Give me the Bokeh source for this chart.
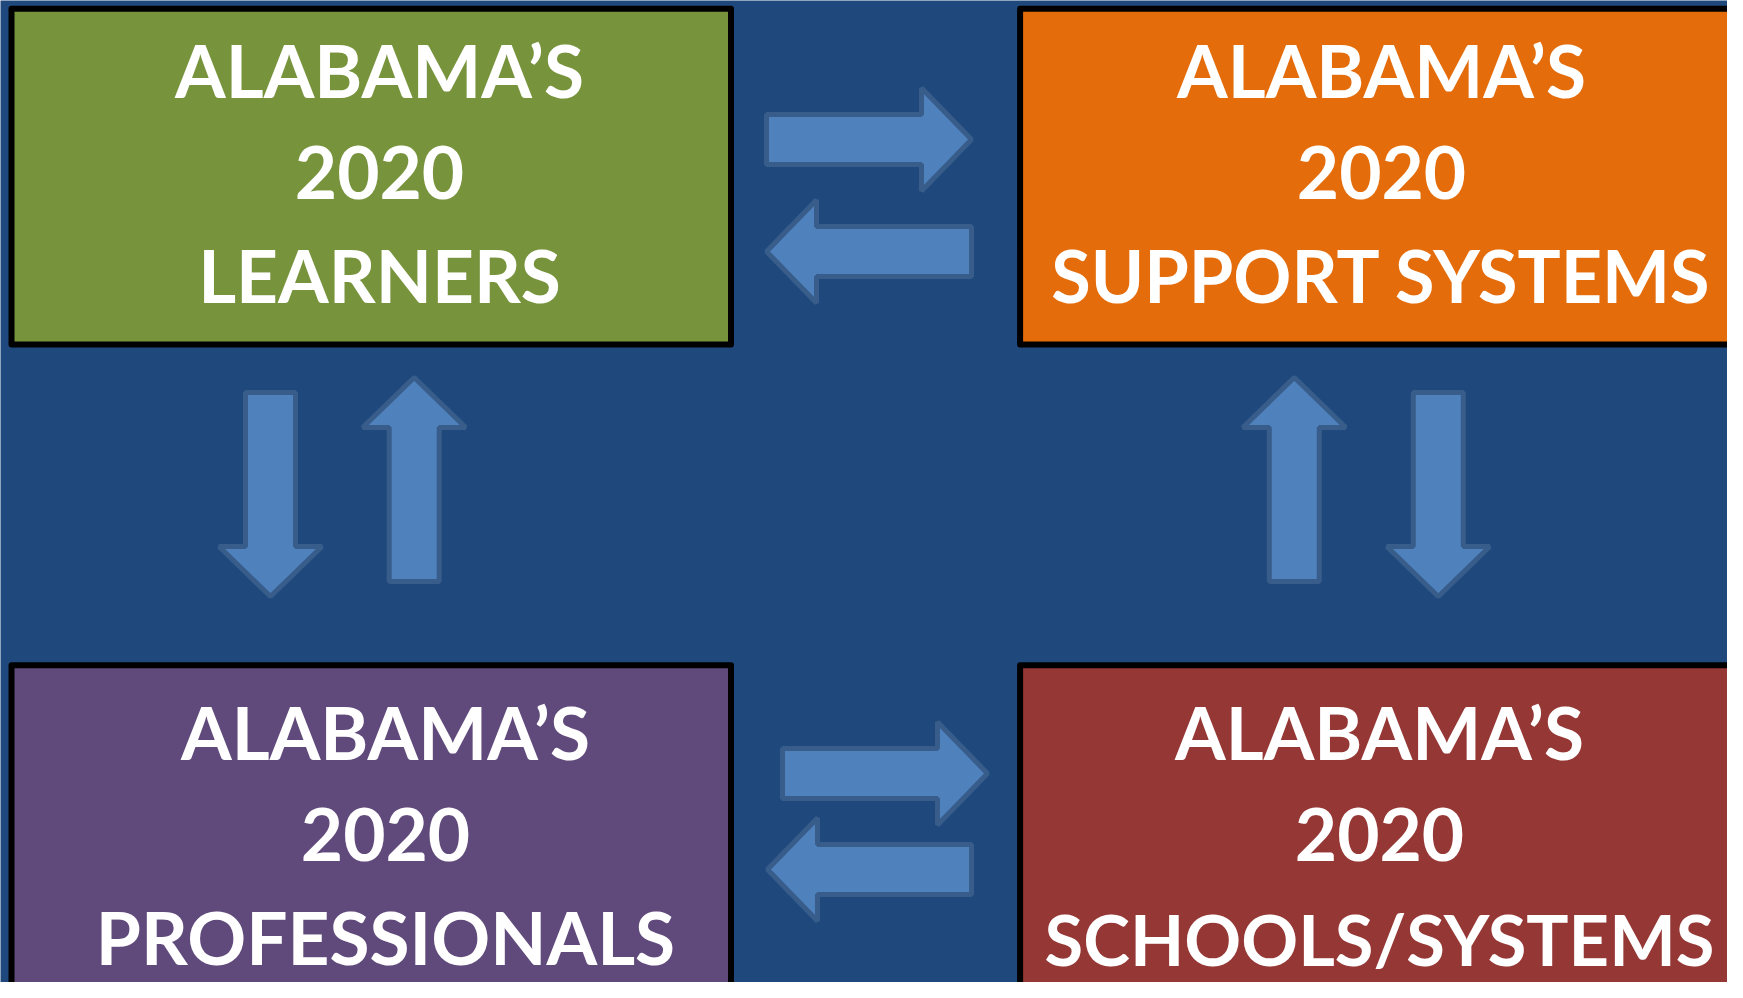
from bokeh.plotting import figure
from bokeh.models import Range1d, ColumnDataSource
from bokeh.core.properties import value
from bokeh.embed import file_html
from bokeh.resources import INLINE

# ---------------- content ----------------
header_line = "ALABAMA\u2019S"
year_line = "2020"
box_titles = ["LEARNERS", "SUPPORT SYSTEMS", "PROFESSIONALS", "SCHOOLS/SYSTEMS"]
box_colors = ["#77933C", "#E46C0A", "#604A7B", "#953735"]

# ---------------- layout (page pixel coordinates) ----------------
BG = "#1F497D"
ARROW_FILL = "#4F81BD"
ARROW_LINE = "#385D8A"

box_left = [11, 1019.6, 11, 1019.6]
box_right = [730.5, 1737, 730.5, 1737]
box_top = [8.3, 8.3, 664.7, 664.7]
box_bottom = [344, 344, 1020, 1020]
text_cx = [379, 1381, 385, 1379]
title_font_px = [73, 72, 73, 70.5]
text_baselines_top = [97.7, 200.2, 302.7]
text_baselines_bottom = [760, 862.7, 965]
FONT_PX = 73
MID_RATIO = 0.387   # baseline -> middle of em box (fraction of font size)

# arrows: (orientation, centre of shaft, tail, tip)
arrow_specs = [
    ("h", 139, 766, 971),
    ("h", 251, 971, 766),
    ("h", 773, 782, 987),
    ("h", 869, 971, 767),
    ("v", 270, 392, 596),
    ("v", 413.7, 581, 377),
    ("v", 1293.8, 581, 377),
    ("v", 1437.8, 392, 596),
]
SHAFT_HALF = 25
HEAD_HALF = 51.5
HEAD_LEN = 50


def arrow_polygon(orient, c, tail, tip):
    d = 1 if tip > tail else -1
    base = tip - d * HEAD_LEN
    along = [tail, base, base, tip, base, base, tail]
    across = [c - SHAFT_HALF, c - SHAFT_HALF, c - HEAD_HALF, c,
              c + HEAD_HALF, c + SHAFT_HALF, c + SHAFT_HALF]
    if orient == "h":
        return along, across
    return across, along


W, H = 1727, 982
p = figure(width=W, height=H, output_backend="svg", toolbar_location=None,
           x_axis_type=None, y_axis_type=None, min_border=0,
           x_range=Range1d(0, W), y_range=Range1d(H, 0))
p.grid.visible = False
p.outline_line_color = None
p.background_fill_color = BG
p.border_fill_color = BG

# boxes
p.quad(left=box_left, right=box_right, top=box_top, bottom=box_bottom,
       fill_color=box_colors, line_color="black", line_width=6, line_join="round")

# arrows
xs, ys = [], []
for spec in arrow_specs:
    ax, ay = arrow_polygon(*spec)
    xs.append(ax)
    ys.append(ay)
p.patches(xs=xs, ys=ys, fill_color=ARROW_FILL, line_color=ARROW_LINE, line_width=5)

# texts
tx, ty, tt, tfs = [], [], [], []
for i, title in enumerate(box_titles):
    bls = text_baselines_top if i < 2 else text_baselines_bottom
    sizes = [FONT_PX, FONT_PX, title_font_px[i]]
    for line, yb, fs in zip([header_line, year_line, title], bls, sizes):
        tx.append(text_cx[i])
        ty.append(yb - MID_RATIO * fs)
        tt.append(line)
        tfs.append(f"{fs}px")
src = ColumnDataSource(dict(x=tx, y=ty, text=tt, fs=tfs))
p.text(x="x", y="y", text="text", source=src, text_color="white",
       text_font=value("Lato"), text_font_style="bold",
       text_font_size="fs", text_align="center",
       text_baseline="middle")

open("out.html", "w").write(file_html(p, INLINE))
